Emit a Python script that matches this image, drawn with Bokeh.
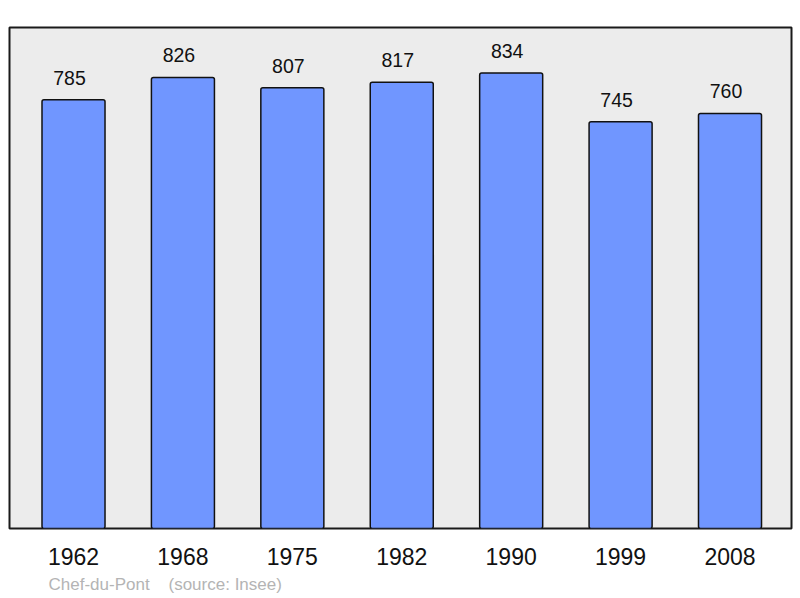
from bokeh.plotting import figure
from bokeh.models import Range1d, FixedTicker, Title, ColumnDataSource
from bokeh.core.properties import value
from bokeh.embed import file_html
from bokeh.resources import INLINE

years = ["1962", "1968", "1975", "1982", "1990", "1999", "2008"]
population = [785, 826, 807, 817, 834, 745, 760]
commune = "Chef-du-Pont"
source_note = "(source: Insee)"

idx = list(range(len(years)))
src = ColumnDataSource(dict(x=idx, top=population, label=[str(v) for v in population]))

FONT = "Liberation Sans"

p = figure(width=800, height=598, output_backend="svg", toolbar_location=None,
           x_range=Range1d(-0.585, len(years) - 1 + 0.562),
           y_range=Range1d(0, max(population) * 1.1),
           y_axis_location=None, tools="")
p.min_border_left = 9
p.min_border_right = 9
p.min_border_top = 27
p.min_border_bottom = 70
p.background_fill_color = "#ececec"
p.border_fill_color = "white"
p.outline_line_color = "#1a1a1a"
p.outline_line_width = 2
p.grid.visible = False

p.vbar(x="x", top="top", bottom=0, width=0.576, source=src,
       fill_color="#7096ff", line_color="#111111", line_width=1.5,
       border_radius=2)

p.text(x="x", y="top", text="label", source=src, x_offset=-4, y_offset=-22,
       text_align="center", text_baseline="alphabetic",
       text_font=value(FONT), text_font_size="19.5px", text_color="#111111")

ax = p.xaxis[0]
ax.ticker = FixedTicker(ticks=idx)
ax.major_label_overrides = {i: y for i, y in zip(idx, years)}
ax.axis_line_color = None
ax.major_tick_line_color = None
ax.minor_tick_line_color = None
ax.major_tick_out = 0
ax.major_tick_in = 0
ax.major_label_standoff = 19
ax.major_label_text_font = FONT
ax.major_label_text_font_size = "23px"
ax.major_label_text_color = "#111111"

footer = commune + "\u00a0\u00a0\u00a0\u00a0" + source_note
p.add_layout(Title(text=footer, align="left", offset=39, standoff=10,
                   text_font=FONT, text_font_size="17px", text_font_style="normal",
                   text_color="#b4b4b4"), "below")

open("out.html", "w").write(file_html(p, INLINE))
